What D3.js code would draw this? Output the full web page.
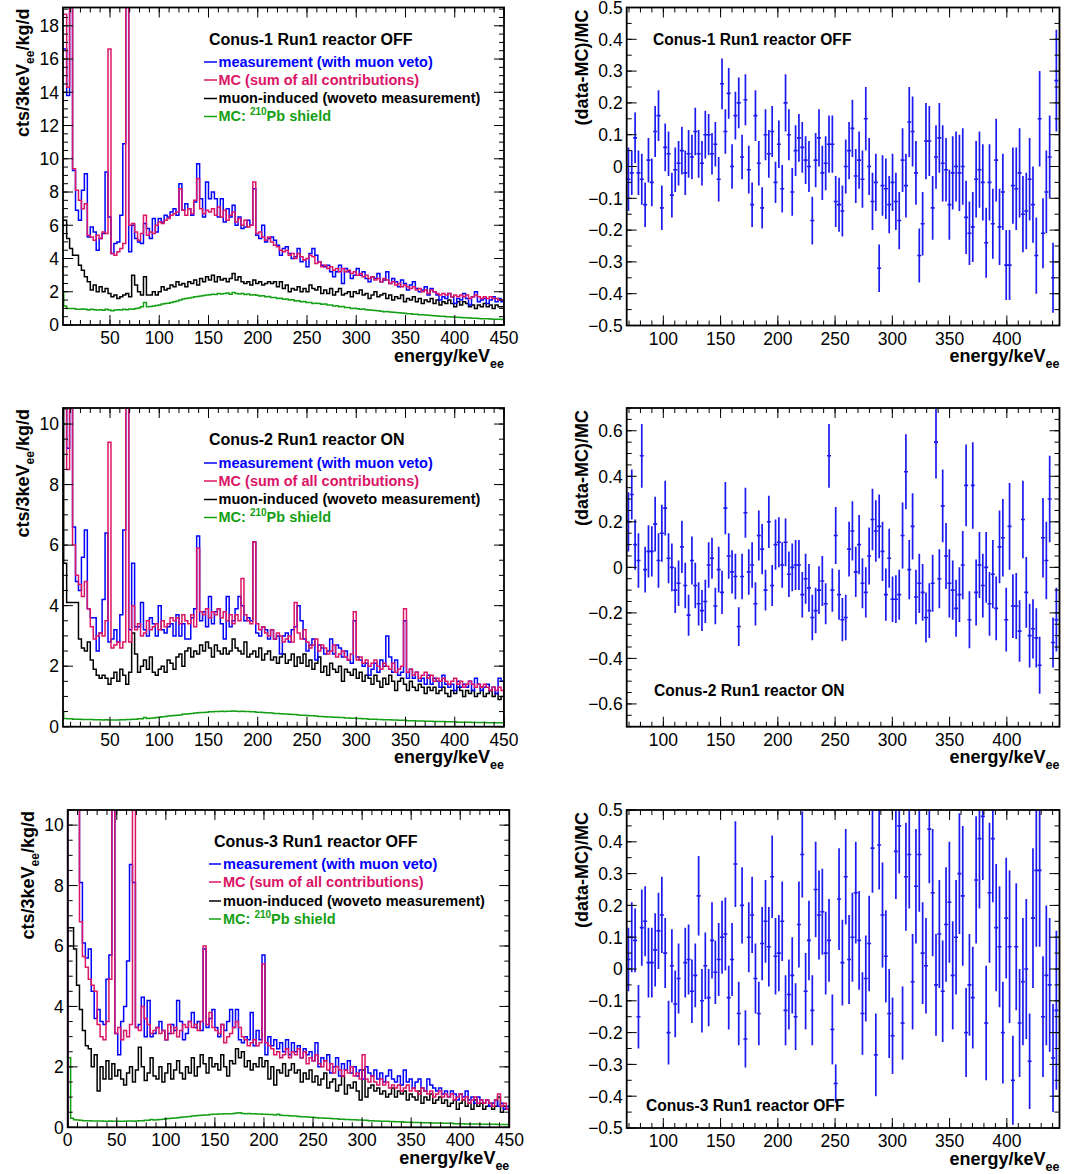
<!DOCTYPE html>
<html>
<head>
<meta charset="utf-8">
<script src="https://cdn.jsdelivr.net/npm/d3@7"></script>
<style>
  body { margin: 0; background: #fff; }
  svg { display: block; }
</style>
</head>
<body>
<svg id="fig" width="1073" height="1174"></svg>
<script>
// ---------------------------------------------------------------
// Background spectra of the three CONUS detectors, 3 keV bins 0-450 keV
// and the relative deviation (data-MC)/MC between 70 and 445 keV.
// ---------------------------------------------------------------
const HIST_BIN = 3;        // keV per spectrum bin
const RATIO_START = 69.5;  // keV, centre of first ratio bin
const RATIO_BIN = 2.92;    // keV, ratio bin width

// ---------- Conus-1 Run1 reactor OFF ----------
const conus1Meas = [
16.6,16.6,13.8,22,9.3,6.9,6.3,8.1,9.1,5.3,
5.9,5.6,4.5,5.2,5.5,9.2,6.5,4.3,4.9,5.0,
6.6,10.9,22,4.4,6.0,5.2,5.0,4.9,6.1,5.8,
5.2,6.4,5.6,6.4,6.2,6.6,6.5,6.8,7.0,6.6,
8.5,6.9,7.3,7.0,6.6,7.4,9.7,7.6,6.5,8.6,
7.6,8.0,7.6,6.5,7.6,6.2,7.0,6.5,7.2,6.0,
6.5,5.8,5.9,6.3,6.0,8.2,5.4,5.2,6.0,5.0,
5.2,5.3,5.1,4.8,4.2,4.6,4.7,4.3,4.0,4.1,
4.6,3.8,3.9,3.5,4.3,4.6,4.2,3.8,3.6,3.5,
3.6,3.2,2.9,3.2,3.6,2.5,3.4,3.2,2.8,3.0,
3.4,3.0,3.2,2.8,2.6,2.9,2.8,3.1,2.6,2.7,
3.2,2.5,2.8,2.6,2.3,2.7,2.5,2.1,2.4,2.6,
2.2,2.0,2.1,2.3,1.8,2.2,2.0,1.8,1.5,1.7,
1.6,1.9,1.7,1.3,1.6,1.5,1.9,1.6,1.2,1.7,
2.0,1.4,1.5,1.6,1.3,1.5,1.7,1.4,1.6,1.4];
const conus1MC = [
18.7,18.7,14.3,22,9.4,8.1,7.5,7.0,7.3,5.4,
5.3,5.1,5.4,5.2,5.6,5.5,16.6,4.3,4.2,4.4,
4.6,4.9,22,6.0,6.1,5.6,5.1,5.5,6.6,5.4,
5.6,5.5,6.0,6.2,6.1,6.3,6.4,6.6,6.7,6.8,
8.2,6.9,6.6,7.0,6.7,7.5,8.8,7.0,6.7,6.9,
6.8,7.0,6.6,7.1,6.5,6.9,6.3,6.6,6.8,6.2,
6.4,6.0,6.3,5.9,6.0,8.6,5.5,5.6,5.3,5.1,
5.3,5.0,4.8,4.7,4.5,4.4,4.5,4.2,4.3,4.0,
4.3,4.1,3.9,4.0,4.2,4.1,3.7,3.8,3.5,3.6,
3.4,3.5,3.3,3.4,3.2,3.4,3.2,3.3,3.1,3.2,
3.0,3.1,2.9,3.0,2.8,2.9,2.7,2.8,2.6,2.8,
2.7,2.5,2.6,2.4,2.5,2.3,2.4,2.3,2.2,2.3,
2.1,2.2,2.0,2.1,1.9,2.1,2.0,1.9,1.8,1.9,
1.8,1.9,1.7,1.8,1.7,1.8,1.7,1.8,1.6,1.7,
1.8,1.7,1.6,1.7,1.6,1.7,1.6,1.6,1.5,1.5];
const conus1Muon = [
6.3,6.3,5.2,4.6,4.2,4.2,3.6,3.3,2.9,2.6,
2.1,2.4,2.0,2.3,2.0,2.2,1.9,1.7,1.8,1.6,
1.7,1.8,1.9,1.7,3.0,2.4,2.0,1.8,2.9,1.8,
1.8,2.0,1.8,2.0,2.3,2.1,2.2,2.4,2.3,2.6,
2.4,2.5,2.3,2.6,2.5,2.7,2.4,2.8,2.6,2.9,
2.7,3.0,2.6,2.9,2.7,2.8,2.6,2.8,3.1,2.7,
2.9,2.6,2.5,2.6,2.4,2.7,2.5,2.6,2.4,2.5,
2.6,2.5,2.6,2.3,2.6,2.2,2.4,2.0,2.2,2.1,
2.3,2.0,2.2,2.0,2.4,2.2,2.1,2.3,1.9,2.1,
1.9,2.2,1.8,2.0,2.2,1.8,1.9,2.0,1.7,2.0,
1.9,2.1,1.8,1.9,1.6,1.8,2.0,1.7,1.8,1.9,
1.6,1.8,1.5,1.7,1.6,1.8,1.4,1.6,1.5,1.7,
1.4,1.6,1.3,1.5,1.4,1.6,1.3,1.5,1.2,1.4,
1.3,1.5,1.3,1.1,1.4,1.2,1.4,1.3,1.1,1.2,
1.0,1.2,1.1,1.3,1.1,1.2,1.0,1.2,1.1,1.1];
const conus1Pb = [
1.9,1.15,1.0,1.0,1.0,0.95,0.95,0.96,0.94,0.9,
0.95,0.91,0.9,0.92,0.89,0.95,0.9,0.86,0.9,0.91,
0.9,0.95,0.92,0.96,0.95,1.0,1.02,1.1,1.35,1.1,
1.12,1.15,1.17,1.2,1.26,1.3,1.31,1.36,1.4,1.45,
1.5,1.56,1.6,1.62,1.66,1.7,1.72,1.75,1.77,1.8,
1.82,1.85,1.84,1.9,1.86,1.9,1.92,1.85,1.96,1.9,
1.86,1.9,1.84,1.86,1.8,1.82,1.79,1.75,1.76,1.7,
1.71,1.66,1.65,1.6,1.61,1.55,1.56,1.5,1.52,1.45,
1.46,1.4,1.41,1.35,1.36,1.3,1.31,1.29,1.25,1.26,
1.2,1.21,1.15,1.16,1.1,1.11,1.05,1.06,1.0,1.01,
0.98,0.95,0.96,0.92,0.9,0.88,0.87,0.85,0.83,0.8,
0.81,0.78,0.76,0.75,0.73,0.72,0.7,0.68,0.67,0.65,
0.64,0.62,0.61,0.6,0.58,0.57,0.55,0.54,0.53,0.52,
0.5,0.49,0.48,0.47,0.46,0.45,0.44,0.43,0.42,0.41,
0.4,0.39,0.38,0.38,0.37,0.36,0.35,0.35,0.34,0.33];
const conus1Ratio = [
-0.04,-0.02,0.09,-0.02,-0.04,-0.12,0.02,-0.05,0.11,0.16,
-0.13,0.06,0.04,-0.09,-0.01,0.01,0.05,-0.02,0.04,0.03,
0.11,0.04,0.01,0.10,0.10,0.04,0.07,-0.04,0.26,0.11,
0.23,0.00,0.16,0.20,0.03,0.21,-0.01,-0.12,0.16,0.01,
-0.13,0.10,0.04,0.11,-0.05,0.07,-0.07,0.20,0.10,-0.08,
0.05,0.09,0.06,0.02,0.00,-0.17,0.02,0.09,-0.02,0.01,
0.07,0.07,-0.11,-0.12,-0.14,0.00,0.05,0.12,-0.03,0.02,
-0.04,0.15,0.00,-0.11,-0.05,-0.32,-0.06,-0.07,-0.12,-0.05,
-0.11,-0.17,0.02,-0.06,0.14,0.11,-0.02,-0.28,-0.18,0.08,
0.08,-0.13,0.03,0.09,0.01,-0.01,-0.12,-0.02,0.00,-0.02,
0.00,-0.16,-0.21,-0.19,-0.04,-0.01,-0.05,-0.24,-0.05,-0.18,
0.02,-0.19,-0.08,-0.31,-0.31,-0.06,-0.07,-0.02,-0.15,-0.14,
-0.04,-0.12,-0.28,0.15,-0.21,-0.08,0.03,-0.35,0.27];
const conus1RatioErr = [
0.10,0.07,0.08,0.07,0.08,0.07,0.07,0.075,0.08,0.08,
0.07,0.075,0.07,0.07,0.07,0.07,0.075,0.07,0.075,0.07,
0.075,0.075,0.07,0.075,0.065,0.065,0.07,0.07,0.08,0.07,
0.08,0.07,0.075,0.08,0.07,0.08,0.075,0.07,0.08,0.07,
0.065,0.08,0.075,0.08,0.065,0.075,0.075,0.09,0.08,0.075,
0.08,0.075,0.08,0.075,0.08,0.075,0.085,0.09,0.085,0.085,
0.09,0.09,0.08,0.085,0.08,0.085,0.09,0.09,0.085,0.09,
0.09,0.10,0.09,0.09,0.09,0.075,0.095,0.095,0.09,0.09,
0.09,0.09,0.10,0.10,0.11,0.11,0.10,0.085,0.10,0.12,
0.11,0.10,0.10,0.11,0.12,0.10,0.11,0.115,0.11,0.12,
0.12,0.115,0.10,0.11,0.12,0.12,0.12,0.11,0.12,0.11,
0.13,0.12,0.12,0.11,0.11,0.12,0.13,0.14,0.12,0.12,
0.13,0.12,0.12,0.15,0.11,0.13,0.13,0.11,0.16];

// ---------- Conus-2 Run1 reactor ON ----------
const conus2Meas = [
12,12,9.2,12,6.6,4.8,4.5,5.6,6.5,3.9,
3.6,3.6,2.5,3.1,4.2,6.4,2.8,2.9,3.2,2.8,
3.7,6.5,12,3.2,5.4,3.3,3.3,4.1,3.2,3.0,
3.6,3.4,3.0,4.0,3.2,3.1,3.3,3.4,3.0,3.7,
3.0,3.4,2.9,2.9,3.6,3.9,6.3,3.5,3.8,3.3,
4.3,3.4,3.8,3.9,3.4,2.9,4.3,3.3,3.5,3.9,
4.3,4.0,3.5,3.6,3.5,6.1,3.1,3.0,3.3,3.2,
2.9,3.2,2.9,3.0,2.4,3.0,3.1,2.8,3.2,3.3,
4.0,3.5,2.9,2.5,2.7,2.9,2.2,2.7,2.6,2.4,
2.5,2.9,2.4,2.7,2.6,2.3,2.5,2.2,2.1,3.5,
2.3,2.2,2.0,2.1,1.7,1.9,2.1,1.8,2.2,2.0,
3.0,2.3,1.8,2.2,1.7,1.8,3.5,1.6,1.9,1.6,
1.8,1.5,1.6,1.4,1.7,1.4,1.6,1.5,1.3,1.7,
1.4,1.3,1.4,1.2,1.5,1.3,1.4,1.3,1.5,1.2,
1.6,1.4,1.2,1.3,1.4,1.2,1.3,1.1,1.6,1.5];
const conus2MC = [
12,12,8.5,12,6.0,5.0,4.7,4.3,4.8,3.9,
3.3,2.9,3.0,3.1,3.0,3.5,9.4,2.6,2.7,2.8,
2.6,2.8,12,2.8,4.0,3.2,3.4,3.0,3.1,3.5,
3.2,3.3,3.4,3.2,3.5,3.3,3.4,3.6,3.5,3.6,
3.4,3.7,3.5,3.4,3.7,3.3,5.9,3.8,3.7,3.9,
3.6,3.8,3.7,3.9,3.6,3.8,3.5,3.7,3.4,3.7,
3.5,4.9,3.7,3.5,3.4,6.1,3.4,3.2,3.3,3.1,
3.0,3.2,2.9,3.1,3.0,2.8,2.9,3.0,2.8,4.1,
3.1,2.9,3.2,2.8,2.6,2.7,2.9,2.5,2.7,2.6,
2.4,2.5,2.7,2.3,2.4,2.5,2.3,2.2,2.4,3.8,
2.2,2.3,2.1,2.2,2.0,2.1,2.2,2.0,1.9,2.1,
2.0,1.9,2.1,1.8,1.9,2.0,3.9,1.8,1.9,1.7,
1.8,1.6,1.7,1.8,1.6,1.7,1.5,1.6,1.5,1.6,
1.5,1.4,1.5,1.6,1.4,1.5,1.3,1.4,1.5,1.4,
1.3,1.4,1.3,1.4,1.3,1.2,1.3,1.2,1.3,1.2];
const conus2Muon = [
11,5.4,4.1,4.1,4.1,4.1,2.9,2.6,2.5,2.8,
2.2,1.9,1.7,1.6,1.7,1.6,1.4,1.6,1.8,1.5,
1.9,1.7,1.4,1.8,3.1,2.4,1.8,2.0,2.2,1.9,
2.3,1.8,1.7,1.9,2.0,1.8,2.2,2.1,1.9,2.3,
2.4,2.0,2.5,2.6,2.3,2.5,2.4,2.7,2.5,2.8,
2.6,2.3,2.7,2.5,2.4,2.6,2.4,2.5,2.9,2.6,
2.5,2.4,2.8,2.3,2.4,2.5,2.3,2.6,2.2,2.4,
2.5,2.2,2.3,2.1,2.3,2.4,2.1,2.2,2.4,2.0,
2.3,2.1,2.4,2.0,2.2,1.9,2.1,2.3,1.8,2.0,
1.7,2.1,1.9,1.8,2.0,1.5,1.9,1.8,1.7,1.9,
1.6,1.8,1.5,1.7,1.6,1.4,1.7,1.5,1.3,1.6,
1.4,1.7,1.5,1.2,1.5,1.6,1.4,1.2,1.5,1.3,
1.2,1.4,1.3,1.1,1.3,1.2,1.3,1.1,1.2,1.3,
1.1,1.0,1.2,1.1,1.3,1.2,1.0,1.2,1.1,1.2,
1.0,1.1,1.3,1.0,1.1,1.2,1.0,1.1,0.9,1.0];
const conus2Pb = [
0.45,0.27,0.26,0.26,0.25,0.25,0.25,0.24,0.24,0.24,
0.24,0.23,0.23,0.23,0.22,0.23,0.22,0.22,0.22,0.22,
0.23,0.23,0.24,0.24,0.25,0.25,0.26,0.26,0.3,0.27,
0.28,0.29,0.3,0.31,0.33,0.34,0.35,0.36,0.37,0.38,
0.39,0.41,0.42,0.43,0.44,0.45,0.46,0.47,0.47,0.48,
0.49,0.49,0.5,0.5,0.51,0.5,0.51,0.51,0.52,0.51,
0.5,0.51,0.5,0.5,0.49,0.49,0.48,0.48,0.47,0.46,
0.46,0.45,0.44,0.44,0.43,0.42,0.42,0.41,0.4,0.4,
0.39,0.38,0.38,0.37,0.36,0.36,0.35,0.34,0.34,0.33,
0.32,0.32,0.31,0.31,0.3,0.3,0.29,0.29,0.28,0.28,
0.27,0.27,0.26,0.26,0.25,0.25,0.25,0.24,0.24,0.23,
0.23,0.23,0.22,0.22,0.21,0.21,0.21,0.2,0.2,0.2,
0.19,0.19,0.19,0.18,0.18,0.18,0.17,0.17,0.17,0.17,
0.16,0.16,0.16,0.16,0.15,0.15,0.15,0.15,0.15,0.14,
0.14,0.14,0.14,0.14,0.13,0.13,0.13,0.13,0.13,0.13];
const conus2Ratio = [
0.20,0.32,0.10,0.03,0.49,-0.01,0.07,0.07,0.19,0.03,
0.15,0.26,0.04,0.00,-0.10,-0.07,0.09,-0.08,-0.21,0.03,
-0.08,-0.16,-0.19,-0.15,0.01,0.04,-0.17,-0.01,-0.11,0.26,
0.05,-0.02,-0.04,-0.26,-0.04,0.24,-0.02,0.01,-0.16,0.14,
0.08,-0.10,0.20,-0.08,0.10,0.11,0.01,0.11,-0.03,0.00,
0.01,0.01,-0.12,-0.05,-0.09,-0.22,-0.19,-0.10,-0.06,-0.16,
0.49,-0.10,0.14,-0.12,-0.23,-0.22,0.08,0.16,-0.02,0.10,
-0.07,-0.11,0.05,0.21,0.16,0.18,0.07,-0.12,0.04,-0.14,
-0.14,-0.12,0.14,0.42,-0.01,0.18,-0.13,-0.07,-0.11,-0.22,
-0.19,-0.07,0.55,-0.05,0.27,0.05,-0.07,-0.10,-0.18,-0.12,
0.01,0.36,-0.23,0.36,-0.11,0.01,-0.08,0.00,-0.16,-0.03,
-0.18,0.09,0.13,-0.23,0.18,-0.17,-0.17,-0.28,0.21,-0.11,
-0.30,-0.27,-0.31,-0.43,0.13,0.03,0.30,-0.33,-0.23];
const conus2RatioErr = [
0.13,0.11,0.11,0.12,0.14,0.10,0.115,0.11,0.12,0.12,
0.125,0.12,0.11,0.105,0.10,0.10,0.115,0.10,0.09,0.105,
0.10,0.095,0.09,0.095,0.10,0.09,0.08,0.10,0.095,0.115,
0.10,0.095,0.10,0.085,0.10,0.11,0.10,0.10,0.095,0.11,
0.11,0.09,0.115,0.09,0.11,0.11,0.10,0.105,0.10,0.105,
0.11,0.11,0.10,0.11,0.105,0.10,0.10,0.105,0.11,0.09,
0.14,0.095,0.125,0.11,0.095,0.10,0.12,0.13,0.11,0.13,
0.11,0.11,0.125,0.135,0.135,0.14,0.13,0.115,0.13,0.10,
0.105,0.11,0.145,0.165,0.13,0.145,0.12,0.13,0.125,0.11,
0.12,0.125,0.16,0.13,0.16,0.145,0.15,0.13,0.125,0.12,
0.15,0.18,0.125,0.19,0.145,0.145,0.14,0.155,0.14,0.15,
0.14,0.16,0.17,0.14,0.19,0.14,0.145,0.135,0.17,0.155,
0.14,0.13,0.13,0.125,0.175,0.17,0.19,0.11,0.14];

// ---------- Conus-3 Run1 reactor OFF ----------
const conus3Meas = [
12,12,12,12,8.1,6.1,5.6,5.9,4.5,3.6,
3.9,3.5,3.4,4.9,5.7,12,3.1,2.4,3.5,4.0,
5.5,8.7,8.1,3.3,3.4,4.3,3.0,4.2,3.0,3.1,
3.3,3.5,3.2,2.9,3.1,3.4,3.2,4.2,3.5,2.9,
3.1,3.5,3.8,3.3,3.5,3.2,5.9,3.3,3.6,3.9,
3.3,3.0,3.4,3.2,3.5,3.9,3.3,3.9,2.9,2.8,
3.0,2.9,3.8,2.7,3.2,2.9,5.7,2.4,3.0,2.7,
2.9,2.6,2.8,2.5,2.9,2.4,2.8,2.5,2.7,2.3,
2.6,2.4,2.5,2.2,2.8,2.0,2.3,2.2,2.4,1.8,
2.0,2.3,1.7,2.1,1.9,2.2,1.8,2.0,1.7,1.9,
1.6,2.0,1.8,1.7,1.9,1.6,1.8,1.5,1.7,1.9,
1.6,1.5,1.7,1.4,1.9,1.5,1.6,1.3,1.5,1.6,
1.3,1.2,1.6,1.4,1.3,1.2,1.3,1.1,1.2,1.0,
1.2,1.1,0.9,1.1,1.0,1.2,0.9,1.0,0.8,1.0,
0.9,0.8,0.9,0.7,0.8,0.9,0.7,0.8,0.6,0.7];
const conus3MC = [
12,12,12,12,6.8,5.65,5.3,4.9,4.7,4.5,
3.4,3.0,2.9,3.5,4.9,12,3.1,3.3,2.9,3.2,
3.0,3.4,12,3.3,3.2,4.0,3.6,3.4,3.1,3.2,
3.3,3.1,3.2,2.9,3.4,3.1,3.3,3.0,3.2,3.4,
3.3,3.5,3.3,3.4,3.2,3.5,6.0,3.4,3.8,3.3,
3.2,3.1,3.4,2.8,3.0,3.1,3.3,3.5,3.3,3.0,
2.9,2.7,2.8,2.9,2.7,2.8,5.4,2.8,2.7,2.6,
2.4,2.5,2.3,2.4,2.6,2.3,2.5,2.4,2.6,2.3,
2.5,2.1,2.3,2.2,2.4,2.1,2.0,2.2,1.9,2.1,
1.8,2.0,1.9,1.7,1.9,1.8,2.0,1.7,1.8,1.6,
2.4,1.6,1.5,1.7,1.5,1.4,1.6,1.4,1.5,1.3,
1.4,1.3,1.4,1.2,1.3,1.4,1.2,1.3,1.2,1.1,
1.3,1.2,1.1,1.2,1.0,1.1,1.2,1.0,1.1,1.0,
1.1,0.9,1.0,1.1,0.9,1.0,0.8,0.9,1.0,0.8,
0.9,0.8,0.9,0.8,0.7,0.9,1.1,0.7,0.8,0.6];
const conus3Muon = [
6.6,6.6,5.9,4.7,3.9,3.2,2.7,2.6,2.0,2.4,
1.2,2.0,1.6,2.2,1.6,2.1,1.7,1.9,1.6,1.4,
1.8,2.0,1.5,1.9,2.65,2.0,1.55,1.8,2.3,1.7,
1.6,2.0,1.5,1.8,2.1,1.6,1.9,2.2,1.8,1.6,
2.0,1.8,2.3,1.7,2.0,2.4,2.1,1.8,2.3,2.0,
2.1,1.9,2.4,2.0,1.7,2.2,2.1,2.6,2.3,2.5,
2.0,2.2,1.9,2.1,2.0,2.3,2.0,2.2,1.6,2.0,
1.4,1.9,1.8,2.1,1.7,1.9,2.1,1.8,1.9,1.5,
1.8,1.6,1.9,1.5,1.7,1.4,1.6,1.8,1.3,1.5,
1.6,1.2,1.4,1.7,1.1,1.4,1.3,1.5,1.2,0.9,
1.9,1.0,1.3,1.4,1.2,1.3,1.1,1.2,1.0,1.1,
1.3,1.0,1.2,1.1,1.2,0.9,1.1,1.0,0.9,1.2,
0.8,1.0,0.9,1.1,0.8,0.9,1.0,0.8,0.9,0.7,
0.8,0.9,0.6,0.8,0.9,0.7,0.8,0.6,0.9,0.7,
0.8,0.6,0.7,0.8,0.6,0.7,1.0,0.5,0.7,0.6];
const conus3Pb = [
2.3,0.3,0.25,0.24,0.23,0.22,0.22,0.22,0.21,0.21,
0.21,0.21,0.2,0.2,0.21,0.2,0.2,0.2,0.2,0.2,
0.21,0.21,0.2,0.21,0.22,0.22,0.23,0.23,0.26,0.24,
0.25,0.26,0.27,0.28,0.29,0.3,0.31,0.32,0.33,0.34,
0.35,0.36,0.37,0.38,0.39,0.4,0.41,0.41,0.42,0.43,
0.43,0.44,0.44,0.45,0.45,0.45,0.46,0.47,0.48,0.46,
0.45,0.46,0.45,0.45,0.44,0.44,0.43,0.43,0.42,0.42,
0.41,0.43,0.4,0.39,0.39,0.38,0.37,0.37,0.36,0.35,
0.35,0.34,0.33,0.33,0.32,0.31,0.31,0.3,0.3,0.29,
0.28,0.28,0.27,0.27,0.26,0.26,0.25,0.25,0.24,0.24,
0.23,0.23,0.22,0.22,0.21,0.21,0.2,0.2,0.2,0.19,
0.19,0.18,0.18,0.18,0.17,0.17,0.17,0.16,0.16,0.16,
0.15,0.15,0.15,0.14,0.14,0.14,0.14,0.13,0.13,0.13,
0.13,0.12,0.12,0.12,0.12,0.11,0.11,0.11,0.11,0.11,
0.1,0.1,0.1,0.1,0.1,0.1,0.09,0.09,0.09,0.09];
const conus3Ratio = [
0.03,0.10,0.09,-0.15,0.13,0.15,0.02,0.02,0.06,0.12,
0.17,0.05,-0.20,0.01,-0.11,-0.03,null,0.02,0.03,-0.07,
-0.02,0.23,-0.10,0.01,-0.09,0.09,-0.01,0.03,0.10,0.11,
-0.09,0.03,0.33,-0.14,0.20,-0.22,0.10,0.17,-0.03,-0.14,
0.08,0.15,0.07,0.29,0.04,0.05,0.15,-0.13,-0.08,-0.02,
-0.15,0.14,0.36,-0.07,0.09,-0.13,0.25,0.17,0.18,0.05,
0.09,-0.19,-0.36,0.22,0.02,0.29,0.03,0.10,0.24,0.09,
-0.14,-0.03,0.08,0.38,-0.27,0.39,0.17,0.04,-0.14,-0.21,
0.37,0.45,-0.17,0.29,0.36,-0.04,0.26,0.36,0.05,0.01,
0.44,0.24,-0.05,0.11,-0.07,0.14,0.21,-0.02,0.10,0.30,
0.23,-0.20,-0.05,-0.09,0.28,0.41,0.48,-0.17,0.24,0.41,
0.13,0.07,-0.20,0.16,0.07,-0.35,0.07,-0.17,-0.04,0.00,
-0.29,0.16,0.31,0.31,-0.15,-0.02,-0.05,-0.28,-0.13];
const conus3RatioErr = [
0.10,0.11,0.10,0.10,0.12,0.11,0.11,0.11,0.115,0.12,
0.12,0.11,0.10,0.115,0.105,0.11,0.10,0.11,0.11,0.10,
0.10,0.125,0.10,0.105,0.09,0.12,0.10,0.115,0.115,0.115,
0.10,0.115,0.135,0.10,0.12,0.09,0.11,0.12,0.11,0.10,
0.115,0.13,0.125,0.13,0.12,0.12,0.125,0.11,0.11,0.12,
0.105,0.135,0.135,0.12,0.125,0.11,0.15,0.14,0.135,0.13,
0.13,0.11,0.06,0.16,0.135,0.15,0.14,0.14,0.16,0.155,
0.13,0.135,0.15,0.14,0.13,0.14,0.165,0.145,0.14,0.12,
0.15,0.15,0.115,0.17,0.17,0.15,0.18,0.18,0.16,0.15,
0.17,0.20,0.16,0.17,0.16,0.18,0.19,0.17,0.18,0.19,
0.22,0.14,0.16,0.16,0.20,0.22,0.20,0.18,0.22,0.20,
0.20,0.19,0.16,0.19,0.24,0.14,0.20,0.17,0.20,0.22,
0.15,0.22,0.24,0.24,0.19,0.22,0.21,0.17,0.25];

// ---------- legend / label text ----------
const runTitles = ["Conus-1 Run1 reactor OFF", "Conus-2 Run1 reactor ON", "Conus-3 Run1 reactor OFF"];
const seriesLabels = ["measurement (with muon veto)", "MC (sum of all contributions)", "muon-induced (woveto measurement)"];

// ---------- styling ----------
const FONT = '"Liberation Sans", Arial, Helvetica, sans-serif';
const COL_MEAS = "#0000ff";
const COL_MC = "#dc1466";
const COL_MUON = "#000000";
const COL_PB = "#14a014";
const COL_RATIO = "#1a1af0";

// panel geometry (frames in pixels)
const rows = [
  {
    title: runTitles[0], meas: conus1Meas, mc: conus1MC, muon: conus1Muon, pb: conus1Pb,
    ratio: conus1Ratio, ratioErr: conus1RatioErr,
    hist: { left: 63, right: 504, top: 7.5, bottom: 325, xd: [2.3, 450], yd: [0, 19.1] },
    res: { left: 626.7, right: 1059.5, top: 7.5, bottom: 325.5, yd: [-0.5, 0.5], major: 0.1, minor: 0.05 },
    resLabel: { x: 653, y: 44.7 },
    legend: { titleX: 209, titleY: 44.7, lineX0: 204, lineX1: 217, textX: 218.5, ys: [66.5, 84.5, 103, 121] }
  },
  {
    title: runTitles[1], meas: conus2Meas, mc: conus2MC, muon: conus2Muon, pb: conus2Pb,
    ratio: conus2Ratio, ratioErr: conus2RatioErr,
    hist: { left: 63, right: 504, top: 408, bottom: 726.7, xd: [2.3, 450], yd: [0, 10.53] },
    res: { left: 626.7, right: 1059.5, top: 408, bottom: 726.7, yd: [-0.7, 0.7], major: 0.2, minor: 0.05 },
    resLabel: { x: 654, y: 695.7 },
    legend: { titleX: 209, titleY: 445, lineX0: 204, lineX1: 217, textX: 218.5, ys: [467.5, 485.5, 504, 522] }
  },
  {
    title: runTitles[2], meas: conus3Meas, mc: conus3MC, muon: conus3Muon, pb: conus3Pb,
    ratio: conus3Ratio, ratioErr: conus3RatioErr,
    hist: { left: 67.7, right: 509.3, top: 810, bottom: 1127.3, xd: [0, 450], yd: [0, 10.5] },
    res: { left: 626.7, right: 1059.5, top: 810, bottom: 1128, yd: [-0.5, 0.5], major: 0.1, minor: 0.05 },
    resLabel: { x: 646, y: 1110.7 },
    legend: { titleX: 214, titleY: 846.5, lineX0: 209, lineX1: 221, textX: 223, ys: [868.5, 886.5, 905.5, 923.5] }
  }
];

const svg = d3.select("#fig");
svg.append("rect").attr("width", 1073).attr("height", 1174).attr("fill", "#fff");

function tickValues(domain, step) {
  const out = [];
  const s = Math.ceil(domain[0] / step - 1e-6), e = Math.floor(domain[1] / step + 1e-6);
  for (let i = s; i <= e; i++) out.push(+(i * step).toFixed(6));
  return out;
}

// ROOT-like frame: inward ticks on all four sides, labels on left/bottom
function drawFrame(g, x, y, o) {
  const [L, R] = x.range();
  const [B, T] = y.range();
  const tk = g.append("g").attr("stroke", "#000").attr("stroke-width", 1);
  const vline = (X, y1, y2) => tk.append("line").attr("x1", X).attr("x2", X).attr("y1", y1).attr("y2", y2);
  const hline = (Y, x1, x2) => tk.append("line").attr("y1", Y).attr("y2", Y).attr("x1", x1).attr("x2", x2);

  tickValues(x.domain(), o.xMinor).forEach(v => { const X = x(v); vline(X, B, B - 5); vline(X, T, T + 5); });
  tickValues(x.domain(), o.xMajor).forEach(v => { const X = x(v); vline(X, B, B - 10); vline(X, T, T + 10); });
  tickValues(y.domain(), o.yMinor).forEach(v => { const Y = y(v); hline(Y, L, L + 5); hline(Y, R, R - 5); });
  tickValues(y.domain(), o.yMajor).forEach(v => { const Y = y(v); hline(Y, L, L + 10); hline(Y, R, R - 10); });

  g.append("rect").attr("x", L).attr("y", T).attr("width", R - L).attr("height", B - T)
    .attr("fill", "none").attr("stroke", "#000").attr("stroke-width", 1.8);

  const lab = g.append("g").attr("font-family", FONT).attr("font-size", 17.5).attr("fill", "#000");
  tickValues(x.domain(), o.xMajor).forEach(v => {
    lab.append("text").attr("x", x(v)).attr("y", B + 19).attr("text-anchor", "middle").text(o.xFmt(v));
  });
  tickValues(y.domain(), o.yMajor).forEach(v => {
    lab.append("text").attr("x", L - 4).attr("y", y(v) + 6.3).attr("text-anchor", "end").text(o.yFmt(v));
  });

  // x title with subscript
  const xt = g.append("text").attr("x", R).attr("y", B + 36.5).attr("text-anchor", "end")
    .attr("font-family", FONT).attr("font-weight", "bold").attr("font-size", 18);
  xt.append("tspan").text("energy/keV");
  xt.append("tspan").attr("font-size", 12.5).attr("dy", 6).text("ee");
}

rows.forEach((row, ri) => {
  // ---------------- spectrum panel ----------------
  const h = row.hist;
  const x = d3.scaleLinear().domain(h.xd).range([h.left, h.right]);
  const y = d3.scaleLinear().domain(h.yd).range([h.bottom, h.top]);
  const g = svg.append("g");
  const clipId = "clipH" + ri;
  g.append("clipPath").attr("id", clipId).append("rect")
    .attr("x", h.left).attr("y", h.top).attr("width", h.right - h.left).attr("height", h.bottom - h.top);

  const stepLine = d3.line().x(d => x(d[0])).y(d => y(d[1]));
  const stepPts = vals => {
    const pts = [[0, 0]];
    vals.forEach((v, k) => { pts.push([k * HIST_BIN, v]); pts.push([(k + 1) * HIST_BIN, v]); });
    pts.push([vals.length * HIST_BIN, 0]);
    return pts;
  };
  const plot = g.append("g").attr("clip-path", `url(#${clipId})`).attr("fill", "none")
    .attr("stroke-linejoin", "miter").attr("stroke-width", 1.5);
  [[row.pb, COL_PB], [row.muon, COL_MUON], [row.meas, COL_MEAS], [row.mc, COL_MC]].forEach(([vals, col]) => {
    plot.append("path").attr("d", stepLine(stepPts(vals))).attr("stroke", col);
  });

  drawFrame(g, x, y, {
    xMajor: 50, xMinor: 10, yMajor: 2, yMinor: 0.5,
    xFmt: v => String(v), yFmt: v => String(v)
  });

  // y title: cts/3keV_ee/kg/d
  const yt = g.append("text")
    .attr("transform", `translate(${h.left - 34},${h.top + 1}) rotate(-90)`)
    .attr("text-anchor", "end").attr("font-family", FONT).attr("font-weight", "bold").attr("font-size", 18);
  yt.append("tspan").text("cts/3keV");
  yt.append("tspan").attr("font-size", 12).attr("dy", 5).text("ee");
  yt.append("tspan").attr("dy", -5).text("/kg/d");

  // legend
  const lg = row.legend;
  const leg = g.append("g").attr("font-family", FONT).attr("font-weight", "bold");
  leg.append("text").attr("x", lg.titleX).attr("y", lg.titleY).attr("font-size", 16).attr("fill", "#000").text(row.title);
  const entries = [[seriesLabels[0], COL_MEAS], [seriesLabels[1], COL_MC], [seriesLabels[2], COL_MUON], [null, COL_PB]];
  entries.forEach(([label, col], i) => {
    const by = lg.ys[i];
    leg.append("line").attr("x1", lg.lineX0).attr("x2", lg.lineX1).attr("y1", by - 4.5).attr("y2", by - 4.5)
      .attr("stroke", col).attr("stroke-width", 1.5);
    const t = leg.append("text").attr("x", lg.textX).attr("y", by).attr("font-size", 14.5).attr("fill", col);
    if (label) t.text(label);
    else {
      t.append("tspan").text("MC: ");
      t.append("tspan").attr("font-size", 10).attr("dy", -6).text("210");
      t.append("tspan").attr("dy", 6).text("Pb shield");
    }
  });

  // ---------------- ratio panel ----------------
  const r = row.res;
  const xr = d3.scaleLinear().domain([68, 446]).range([r.left, r.right]);
  const yr = d3.scaleLinear().domain(r.yd).range([r.bottom, r.top]);
  const gr = svg.append("g");
  const clipR = "clipR" + ri;
  gr.append("clipPath").attr("id", clipR).append("rect")
    .attr("x", r.left).attr("y", r.top).attr("width", r.right - r.left).attr("height", r.bottom - r.top);

  const pts = row.ratio.map((v, i) => ({ e: RATIO_START + i * RATIO_BIN, v, err: row.ratioErr[i] }))
    .filter(d => d.v !== null);
  const pg = gr.append("g").attr("clip-path", `url(#${clipR})`).attr("stroke", COL_RATIO);
  pg.selectAll("line.bar").data(pts).join("line").attr("class", "bar")
    .attr("x1", d => xr(d.e)).attr("x2", d => xr(d.e))
    .attr("y1", d => yr(d.v - d.err)).attr("y2", d => yr(d.v + d.err))
    .attr("stroke-width", 1.7);
  pg.selectAll("line.mk").data(pts).join("line").attr("class", "mk")
    .attr("x1", d => xr(d.e) - 2).attr("x2", d => xr(d.e) + 2)
    .attr("y1", d => yr(d.v)).attr("y2", d => yr(d.v))
    .attr("stroke-width", 1.6);

  const fmt1 = d3.format(".1f");
  drawFrame(gr, xr, yr, {
    xMajor: 50, xMinor: 10, yMajor: r.major, yMinor: r.minor,
    xFmt: v => String(v), yFmt: v => (Math.abs(v) < 1e-9 ? "0" : fmt1(v))
  });

  gr.append("text")
    .attr("transform", `translate(${r.left - 38.5},${r.top + 2}) rotate(-90)`)
    .attr("text-anchor", "end").attr("font-family", FONT).attr("font-weight", "bold").attr("font-size", 18)
    .text("(data-MC)/MC");

  gr.append("text").attr("x", row.resLabel.x).attr("y", row.resLabel.y)
    .attr("font-family", FONT).attr("font-weight", "bold").attr("font-size", 15.6).text(row.title);
});
</script>
</body>
</html>
